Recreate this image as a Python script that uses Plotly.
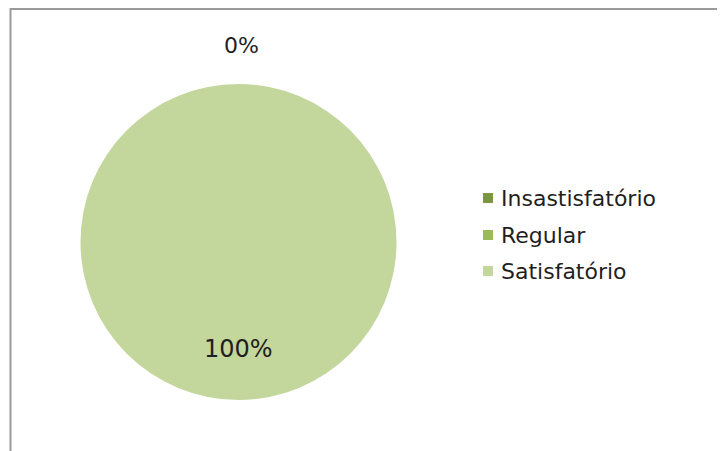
import plotly.graph_objects as go

# ---- data ----
categories = ["Insastisfatório", "Regular", "Satisfatório"]
values = [0, 0, 100]
colors = ["#7b9642", "#9bbb59", "#c3d69b"]

W, H = 725, 451
OFF = 8  # page body margin: figure is drawn 8px right/down of page origin
FONT = "DejaVu Sans"
TXT = "#1f1f1f"


def px(x):
    """page x pixel -> paper coordinate"""
    return (x - OFF) / W


def py(y):
    """page y pixel -> paper coordinate"""
    return 1 - (y - OFF) / H


total = sum(values)
pcts = [round(v / total * 100) for v in values]

fig = go.Figure(
    go.Pie(
        labels=categories,
        values=values,
        marker=dict(colors=colors, line=dict(width=0)),
        sort=False,
        direction="clockwise",
        rotation=0,
        textinfo="none",
        hoverinfo="label+percent",
        showlegend=False,
        domain=dict(x=[px(80), px(397)], y=[py(400), py(84)]),
    )
)

annotations = []
shapes = []

# data labels (0% for the empty slices at top, 100% for the full slice)
annotations.append(dict(x=px(241), y=py(45), xref="paper", yref="paper",
                        text=f"{pcts[0]}%", showarrow=False,
                        font=dict(family=FONT, size=22, color=TXT),
                        xanchor="center", yanchor="middle"))
annotations.append(dict(x=px(238), y=py(349), xref="paper", yref="paper",
                        text=f"{pcts[2]}%", showarrow=False,
                        font=dict(family=FONT, size=24, color=TXT),
                        xanchor="center", yanchor="middle"))

# legend
row_y = [198, 235, 271]
for cat, col, yy in zip(categories, colors, row_y):
    shapes.append(dict(type="rect", xref="paper", yref="paper",
                       x0=px(483), x1=px(493), y0=py(yy - 5), y1=py(yy + 5),
                       fillcolor=col, line=dict(width=0)))
    annotations.append(dict(x=px(499), y=py(yy), xref="paper", yref="paper",
                            text=cat, showarrow=False,
                            font=dict(family=FONT, size=22, color=TXT),
                            xanchor="left", yanchor="middle"))

# chart border
shapes.append(dict(type="rect", xref="paper", yref="paper",
                   x0=px(10.5), x1=px(W + 20), y0=py(H + 20), y1=py(OFF + 1),
                   line=dict(color="#9a9a9a", width=2), fillcolor="rgba(0,0,0,0)"))

fig.update_layout(
    width=W, height=H,
    margin=dict(l=0, r=0, t=0, b=0),
    paper_bgcolor="white",
    plot_bgcolor="white",
    annotations=annotations,
    shapes=shapes,
    showlegend=False,
)

fig.write_html("out.html")
